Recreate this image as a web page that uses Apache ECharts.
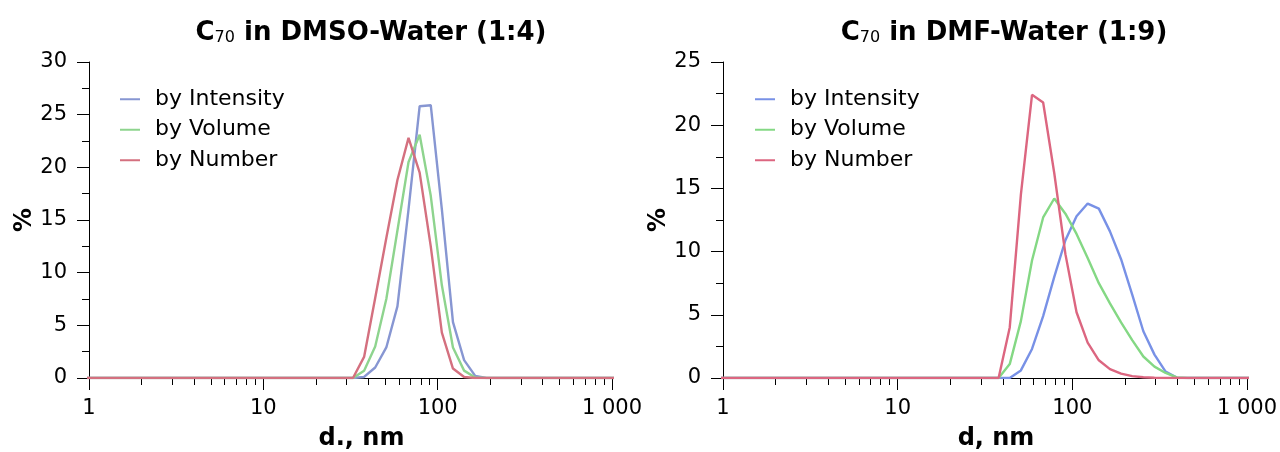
<!DOCTYPE html>
<html>
<head>
<meta charset="utf-8">
<script src="https://cdn.jsdelivr.net/npm/echarts@6/dist/echarts.min.js"></script>
<style>
  html, body { margin: 0; padding: 0; background: #ffffff; }
  #chart { width: 1280px; height: 452px; }
</style>
</head>
<body>
<div id="chart"></div>
<script>
// Size-distribution bins (hydrodynamic diameter, nm)
const diameters = [
  0.9649, 1.117, 1.294, 1.499, 1.736, 2.01, 2.328, 2.696, 3.122, 3.615,
  4.187, 4.849, 5.615, 6.503, 7.531, 8.721, 10.1, 11.7, 13.54, 15.69,
  18.17, 21.04, 24.36, 28.21, 32.67, 37.84, 43.82, 50.75, 58.77, 68.06,
  78.82, 91.28, 105.7, 122.4, 141.8, 164.2, 190.1, 220.2, 255.0, 295.3,
  342.0, 396.1, 458.7, 531.2, 615.1, 712.4, 825.0, 955.4, 1106
];

// C70 in DMSO-Water (1:4), %
const dmsoIntensity = [
  0, 0, 0, 0, 0, 0, 0, 0, 0, 0,
  0, 0, 0, 0, 0, 0, 0, 0, 0, 0,
  0, 0, 0, 0, 0, 0.1, 1.0, 2.9, 6.8, 16.0,
  25.8, 25.9, 16.0, 5.3, 1.7, 0.2, 0, 0, 0, 0,
  0, 0, 0, 0, 0, 0, 0, 0, 0
];
const dmsoVolume = [
  0, 0, 0, 0, 0, 0, 0, 0, 0, 0,
  0, 0, 0, 0, 0, 0, 0, 0, 0, 0,
  0, 0, 0, 0, 0, 0.7, 3.0, 7.5, 14.0, 20.5,
  23.1, 17.3, 8.8, 2.9, 0.7, 0.05, 0, 0, 0, 0,
  0, 0, 0, 0, 0, 0, 0, 0, 0
];
const dmsoNumber = [
  0, 0, 0, 0, 0, 0, 0, 0, 0, 0,
  0, 0, 0, 0, 0, 0, 0, 0, 0, 0,
  0, 0, 0, 0, 0, 2.0, 7.6, 13.3, 18.8, 22.8,
  19.5, 12.5, 4.3, 0.9, 0.1, 0, 0, 0, 0, 0,
  0, 0, 0, 0, 0, 0, 0, 0, 0
];

// C70 in DMF-Water (1:9), %
const dmfIntensity = [
  0, 0, 0, 0, 0, 0, 0, 0, 0, 0,
  0, 0, 0, 0, 0, 0, 0, 0, 0, 0,
  0, 0, 0, 0, 0, 0, 0, 0.6, 2.3, 4.9,
  8.0, 10.9, 12.8, 13.8, 13.4, 11.6, 9.4, 6.6, 3.7, 1.85,
  0.5, 0.03, 0, 0, 0, 0, 0, 0, 0
];
const dmfVolume = [
  0, 0, 0, 0, 0, 0, 0, 0, 0, 0,
  0, 0, 0, 0, 0, 0, 0, 0, 0, 0,
  0, 0, 0, 0, 0, 0, 1.1, 4.5, 9.3, 12.7,
  14.2, 13.0, 11.4, 9.5, 7.5, 5.9, 4.4, 3.0, 1.7, 0.9,
  0.4, 0.05, 0, 0, 0, 0, 0, 0, 0
];
const dmfNumber = [
  0, 0, 0, 0, 0, 0, 0, 0, 0, 0,
  0, 0, 0, 0, 0, 0, 0, 0, 0, 0,
  0, 0, 0, 0, 0, 0, 4.0, 14.5, 22.4, 21.8,
  16.2, 9.8, 5.2, 2.8, 1.4, 0.7, 0.35, 0.15, 0.06, 0.02,
  0, 0, 0, 0, 0, 0, 0, 0, 0
];

const seriesNames = ['by Intensity', 'by Volume', 'by Number'];
const xTickLabels = { 1: '1', 10: '10', 100: '100', 1000: '1 000' };

const leftColors = ['#8796d2', '#8ed48e', '#d4707f'];
const rightColors = ['#7891e6', '#84d884', '#dc6680'];

const FONT = 'DejaVu Sans';

function pairs(values) {
  return diameters.map((d, i) => [d, values[i]]);
}

function xAxisFor(gridIndex, name) {
  return {
    type: 'log', logBase: 10, min: 1, max: 1000, gridIndex: gridIndex,
    splitNumber: 3,
    name: name, nameLocation: 'middle', nameGap: 49,
    nameTextStyle: {
      fontFamily: FONT, fontSize: 24, fontWeight: 'bold', color: '#000',
      padding: [0, 0, 0, 22]
    },
    axisLine: { lineStyle: { color: '#000', width: 1 } },
    axisTick: { length: 12, lineStyle: { color: '#000' } },
    minorTick: { show: true, splitNumber: 9, length: 7, lineStyle: { color: '#000' } },
    axisLabel: {
      margin: 20, fontFamily: FONT, fontSize: 21, color: '#000',
      formatter: v => xTickLabels[v] !== undefined ? xTickLabels[v] : ''
    },
    splitLine: { show: false }
  };
}

function yAxisFor(gridIndex, max) {
  return {
    type: 'value', min: 0, max: max, interval: 5, gridIndex: gridIndex,
    name: '%', nameLocation: 'middle', nameRotate: 90, nameGap: 46,
    nameTextStyle: { fontFamily: FONT, fontSize: 24, fontWeight: 'bold', color: '#000' },
    axisLine: { show: true, lineStyle: { color: '#000', width: 1 } },
    axisTick: { show: true, length: 12, lineStyle: { color: '#000' } },
    minorTick: { show: true, splitNumber: 2, length: 7, lineStyle: { color: '#000' } },
    axisLabel: { margin: 22, fontFamily: FONT, fontSize: 21, color: '#000' },
    splitLine: { show: false }
  };
}

function lineSeries(name, values, color, idx) {
  return {
    name: name, type: 'line', xAxisIndex: idx, yAxisIndex: idx,
    data: pairs(values), showSymbol: false, symbol: 'none',
    color: color, lineStyle: { width: 2.4, color: color },
    animation: false, clip: true
  };
}

function legendFor(left, colors) {
  return {
    orient: 'vertical', left: left, top: 82,
    icon: 'rect', itemWidth: 20, itemHeight: 2, itemGap: 6,
    selectedMode: false,
    data: seriesNames.map((n, i) => ({ name: n, itemStyle: { color: colors[i] } })),
    textStyle: { fontFamily: FONT, fontSize: 22, color: '#000', lineHeight: 24.5, padding: [0, 0, 0, 10] }
  };
}

function titleFor(center, main, tail) {
  return {
    text: '{a|' + main + '}{s|70}{a|' + tail + '}',
    left: center, top: 9, textAlign: 'center',
    textStyle: {
      rich: {
        a: { fontFamily: FONT, fontSize: 26, fontWeight: 'bold', color: '#000', lineHeight: 32, verticalAlign: 'bottom' },
        s: { fontFamily: FONT, fontSize: 16, fontWeight: 'normal', color: '#000', lineHeight: 17, verticalAlign: 'bottom' }
      }
    }
  };
}

const chart = echarts.init(document.getElementById('chart'), null, { renderer: 'canvas' });

chart.setOption({
  backgroundColor: '#ffffff',
  animation: false,
  title: [
    titleFor(366, 'C', ' in DMSO-Water (1:4)'),
    titleFor(999, 'C', ' in DMF-Water (1:9)')
  ],
  legend: [legendFor(115, leftColors), legendFor(750, rightColors)],
  grid: [
    { left: 89, top: 62, width: 523, height: 316, containLabel: false, outerBoundsMode: 'none' },
    { left: 723, top: 62, width: 524, height: 316, containLabel: false, outerBoundsMode: 'none' }
  ],
  xAxis: [xAxisFor(0, 'd., nm'), xAxisFor(1, 'd, nm')],
  yAxis: [yAxisFor(0, 30), yAxisFor(1, 25)],
  series: [
    lineSeries(seriesNames[0], dmsoIntensity, leftColors[0], 0),
    lineSeries(seriesNames[1], dmsoVolume, leftColors[1], 0),
    lineSeries(seriesNames[2], dmsoNumber, leftColors[2], 0),
    lineSeries(seriesNames[0], dmfIntensity, rightColors[0], 1),
    lineSeries(seriesNames[1], dmfVolume, rightColors[1], 1),
    lineSeries(seriesNames[2], dmfNumber, rightColors[2], 1)
  ]
});
</script>
</body>
</html>
